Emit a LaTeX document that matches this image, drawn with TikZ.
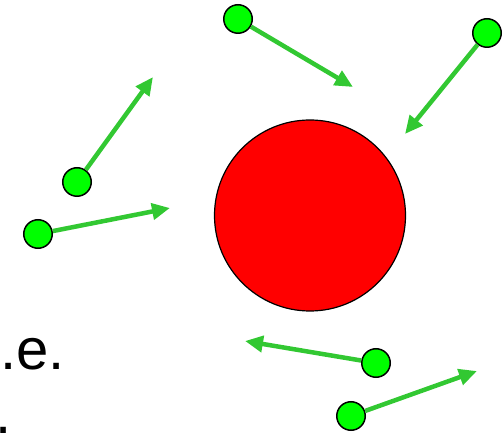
\documentclass[tikz,border=0pt]{standalone}
\usepackage{fontspec}
\setmainfont{Liberation Sans}
\usetikzlibrary{arrows.meta}
\definecolor{arrowgreen}{RGB}{50,200,50}
\definecolor{ballgreen}{RGB}{0,255,0}
\tikzset{
  ball/.style={circle,draw=black,line width=1.5pt,fill=ballgreen,minimum size=28.5pt,inner sep=0pt},
  motion/.style={draw=arrowgreen,line width=4.5pt,-{Triangle[length=18pt,width=16pt]}},
  bigball/.style={circle,draw=black,line width=1.2pt,fill=red,minimum size=191pt,inner sep=0pt},
  txt/.style={anchor=base west,inner sep=0pt,font=\fontsize{58}{60}\selectfont}
}
\begin{document}
\begin{tikzpicture}[x=1pt,y={(0pt,-1pt)}]
\useasboundingbox (0,0) rectangle (503,435);
\node[bigball] (big) at (310,215.5) {};
\node[ball] (b1) at (238,19) {};
\node[ball] (b2) at (77,182) {};
\node[ball] (b3) at (38,234) {};
\node[ball] (b4) at (376,363) {};
\node[ball] (b5) at (351,416) {};
\node[ball] (b6) at (487,33) {};
\coordinate (t1) at (353,87);
\coordinate (t2) at (153,77);
\coordinate (t3) at (170,208);
\coordinate (t4) at (245,341);
\coordinate (t5) at (477,371);
\coordinate (t6) at (405,134);
\draw[motion] (b1) -- (t1);
\draw[motion] (b2) -- (t2);
\draw[motion] (b3) -- (t3);
\draw[motion] (b4) -- (t4);
\draw[motion] (b5) -- (t5);
\draw[motion] (b6) -- (t6);
\node[txt] (l1) at (0,370) {.e.};
\node[txt] (l2) at (0,433.5) {\hspace*{-4.5pt}.};
\end{tikzpicture}
\end{document}
